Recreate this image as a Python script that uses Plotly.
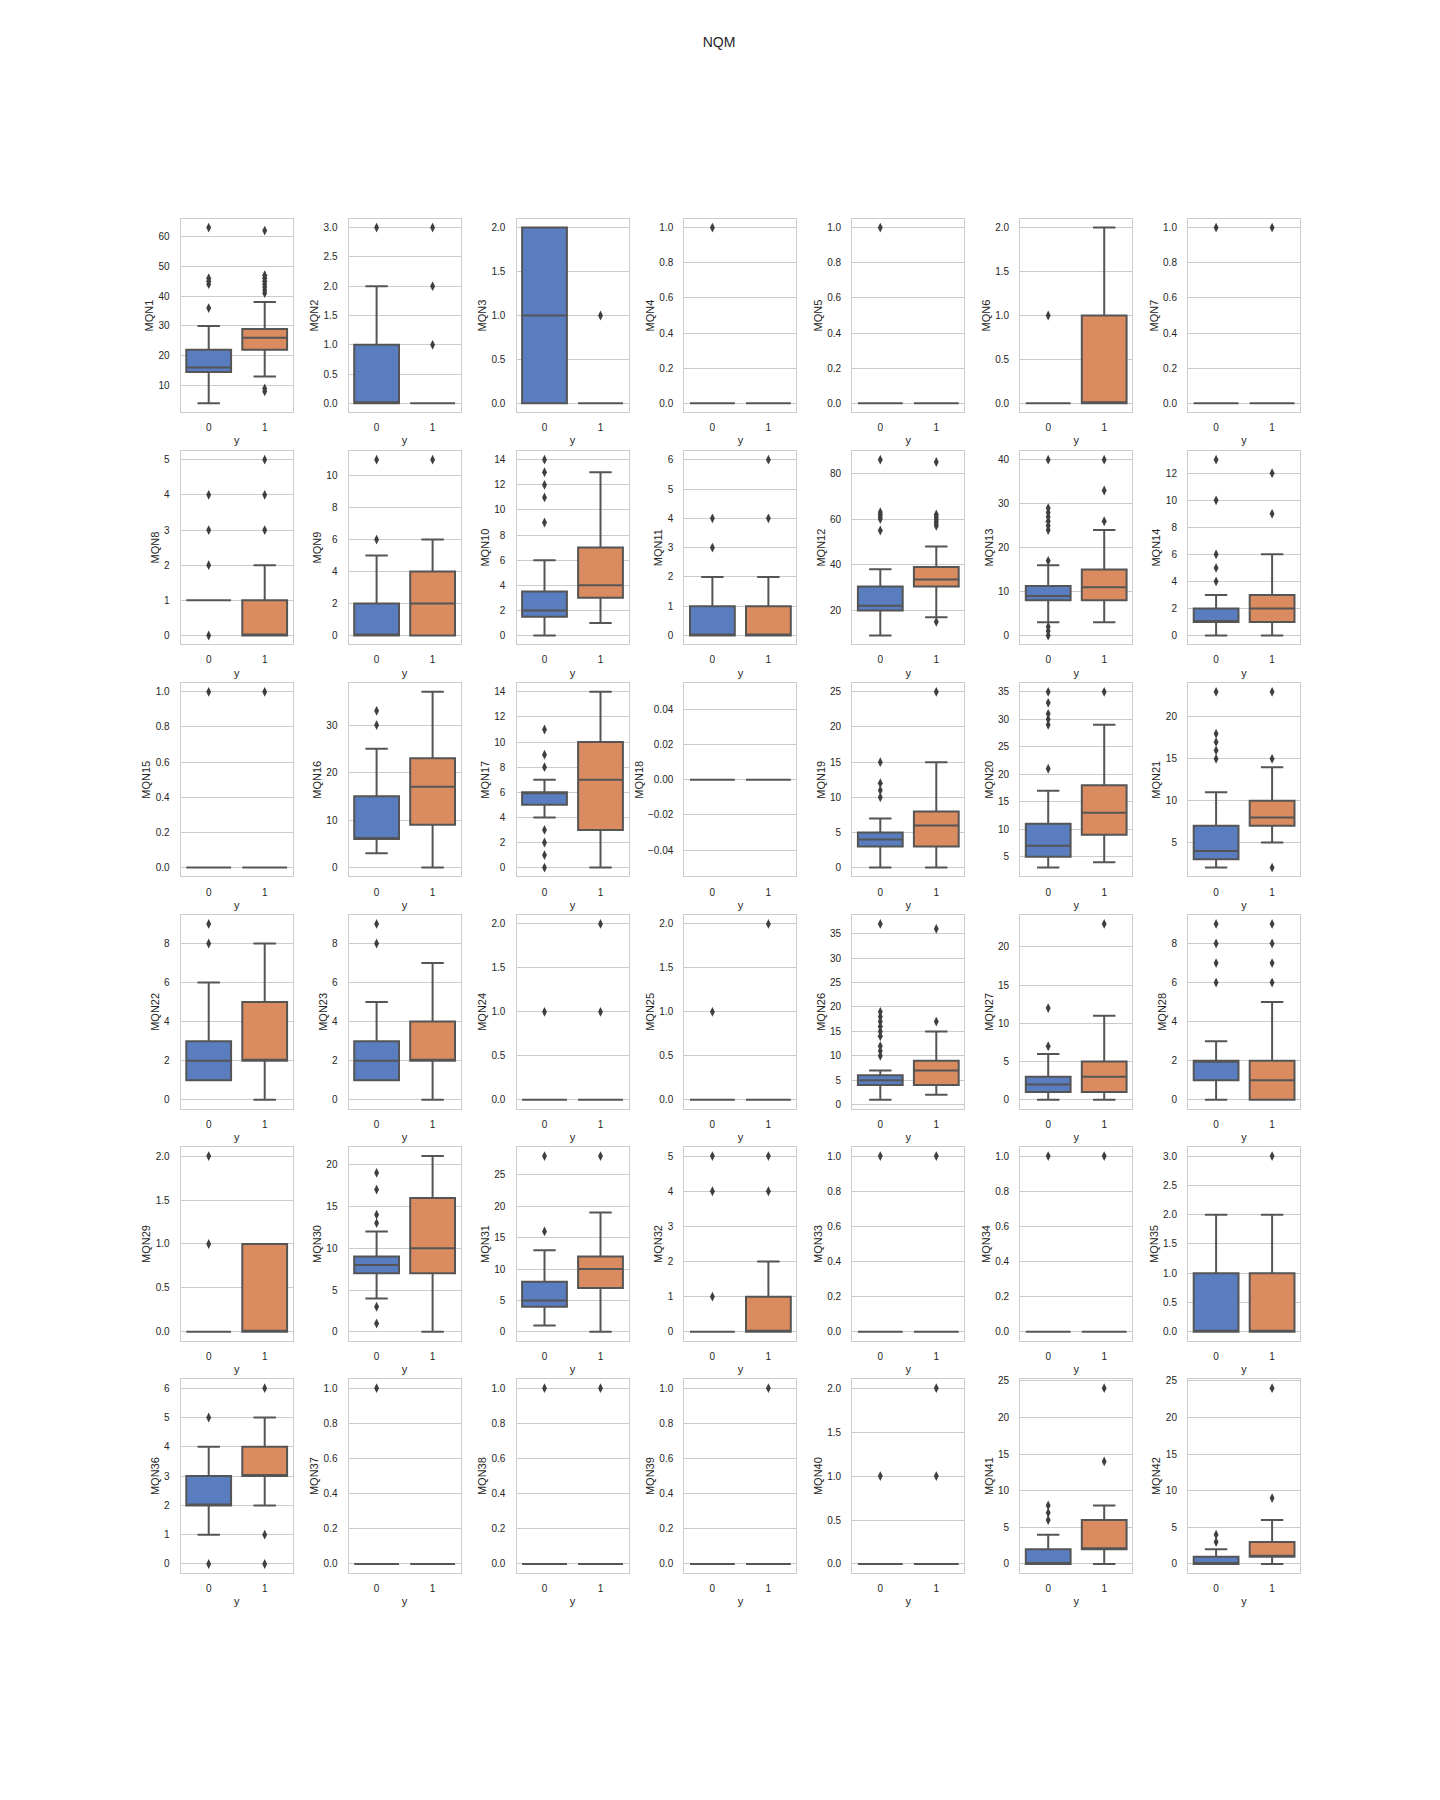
import plotly.graph_objects as go

# ---------------- data ----------------
features = ["MQN%d" % i for i in range(1, 43)]
groups = [0, 1]

# class 0 box statistics: lower whisker, q1, median, q3, upper whisker
g0_low = [4, 0, 0, 0, 0, 0, 0, 1, 0, 0, 0, 9, 3, 0, 0, 3, 4, 0, 0, 3, 2,
          1, 1, 0, 0, 1, 0, 0, 0, 4, 1, 0, 0, 0, 0, 1, 0, 0, 0, 0, 0, 0]
g0_q1 = [14.5, 0, 0, 0, 0, 0, 0, 1, 0, 1.5, 0, 20, 8, 1, 0, 6, 5, 0, 3, 5, 3,
         1, 1, 0, 0, 4, 1, 1, 0, 7, 4, 0, 0, 0, 0, 2, 0, 0, 0, 0, 0, 0]
g0_med = [16, 0, 1, 0, 0, 0, 0, 1, 0, 2, 0, 22, 9, 1, 0, 6, 6, 0, 4, 7, 4,
          2, 2, 0, 0, 5, 2, 2, 0, 8, 5, 0, 0, 0, 0, 2, 0, 0, 0, 0, 0, 0]
g0_q3 = [22, 1, 2, 0, 0, 0, 0, 1, 2, 3.5, 1, 30.5, 11.25, 2, 0, 15, 6, 0, 5, 11, 7,
         3, 3, 0, 0, 6, 3, 2, 0, 9, 8, 0, 0, 0, 1, 3, 0, 0, 0, 0, 2, 1]
g0_high = [30, 2, 2, 0, 0, 0, 0, 1, 5, 6, 2, 38, 16, 3, 0, 25, 7, 0, 7, 17, 11,
           6, 5, 0, 0, 7, 6, 3, 0, 12, 13, 0, 0, 0, 2, 4, 0, 0, 0, 0, 4, 2]
g0_out = [
    [36, 44, 45, 46, 63], [3], [], [1], [1], [1], [1],
    [0, 2, 3, 4], [6, 11], [9, 11, 12, 13, 14], [3, 4], [55, 60, 61, 62, 63, 86],
    [0, 1, 2, 17, 24, 25, 26, 27, 28, 29, 40], [4, 5, 6, 10, 13],
    [1], [30, 33], [0, 1, 2, 3, 8, 9, 11], [], [10, 11, 12, 15],
    [21, 29, 30, 31, 33, 35], [15, 16, 17, 18, 23],
    [8, 9], [8, 9], [1], [1], [10, 11, 12, 14, 15, 16, 17, 18, 19, 37], [7, 12], [6, 7, 8, 9],
    [1, 2], [1, 3, 13, 14, 17, 19], [16, 28], [1, 4, 5], [1], [1], [],
    [0, 5], [1], [1], [], [1], [6, 7, 8], [3, 4],
]

# class 1 box statistics
g1_low = [13, 0, 0, 0, 0, 0, 0, 0, 0, 1, 0, 17, 3, 0, 0, 0, 0, 0, 0, 4, 5,
          0, 0, 0, 0, 2, 0, 0, 0, 0, 0, 0, 0, 0, 0, 2, 0, 0, 0, 0, 0, 0]
g1_q1 = [22, 0, 0, 0, 0, 0, 0, 0, 0, 3, 0, 30.5, 8, 1, 0, 9, 3, 0, 3, 9, 7,
         2, 2, 0, 0, 4, 1, 0, 0, 7, 7, 0, 0, 0, 0, 3, 0, 0, 0, 0, 2, 1]
g1_med = [26, 0, 0, 0, 0, 0, 0, 0, 2, 4, 0, 33.5, 11, 2, 0, 17, 7, 0, 6, 13, 8,
          2, 2, 0, 0, 7, 3, 1, 0, 10, 10, 0, 0, 0, 0, 3, 0, 0, 0, 0, 2, 1]
g1_q3 = [29, 0, 0, 0, 0, 1, 0, 1, 4, 7, 1, 39, 15, 3, 0, 23, 10, 0, 8, 18, 10,
         5, 4, 0, 0, 9, 5, 2, 1, 16, 12, 1, 0, 0, 1, 4, 0, 0, 0, 0, 6, 3]
g1_high = [38, 0, 0, 0, 0, 2, 0, 2, 6, 13, 2, 48, 24, 6, 0, 37, 14, 0, 15, 29, 14,
           8, 7, 0, 0, 15, 11, 5, 1, 21, 19, 2, 0, 0, 2, 5, 0, 0, 0, 0, 8, 6]
g1_out = [
    [8, 9, 41, 42, 43, 44, 45, 46, 47, 62], [1, 2, 3], [1], [], [], [], [1],
    [3, 4, 5], [11], [], [4, 6], [15, 57, 58, 59, 60, 61, 62, 85], [26, 33, 40], [9, 12],
    [1], [], [], [], [25], [35], [2, 15, 23],
    [], [], [1, 2], [2], [17, 36], [23], [6, 7, 8, 9],
    [], [], [28], [4, 5], [1], [1], [3],
    [0, 1, 6], [], [1], [1], [1, 2], [14, 24], [9, 24],
]

# y tick step for each panel
tick_steps = [10, 0.5, 0.5, 0.2, 0.2, 0.5, 0.2,
              1, 2, 2, 1, 20, 10, 2,
              0.2, 10, 2, 0.02, 5, 5, 5,
              2, 2, 0.5, 0.5, 5, 5, 2,
              0.5, 5, 5, 1, 0.2, 0.2, 0.5,
              1, 0.2, 0.2, 0.2, 0.5, 5, 5]

title_text = "NQM"

# ---------------- style / layout ----------------
W, H = 1440, 1800
FONT = "Liberation Sans, Arial, sans-serif"
TXT = "#262626"
EDGE = "#555555"
FLIER = "#3f3f3f"
GRID = "#cccccc"
COLORS = ["#597dbf", "#da8b5f"]

col_left0, col_step, pw = 172.7, 167.9, 112.0
row_top0, row_step, ph = 207.5, 232.9, 194.0
NCOL = 7

fig = go.Figure()
layout = {}

for i, name in enumerate(features):
    r, c = divmod(i, NCOL)
    n = i + 1
    xr = "x" if n == 1 else "x%d" % n
    yr = "y" if n == 1 else "y%d" % n
    stats = [
        (g0_low[i], g0_q1[i], g0_med[i], g0_q3[i], g0_high[i], g0_out[i]),
        (g1_low[i], g1_q1[i], g1_med[i], g1_q3[i], g1_high[i], g1_out[i]),
    ]
    for g, (lo, q1, med, q3, hi, outs) in zip(groups, stats):
        fig.add_trace(go.Box(
            x=[g], q1=[q1], median=[med], q3=[q3], lowerfence=[lo], upperfence=[hi],
            width=0.8, whiskerwidth=0.5, fillcolor=COLORS[g],
            line=dict(color=EDGE, width=2), boxpoints=False,
            xaxis=xr, yaxis=yr, showlegend=False, name=str(g)))
        if outs:
            fig.add_trace(go.Scatter(
                x=[g] * len(outs), y=outs, mode="markers",
                marker=dict(symbol="diamond-tall", size=7, color=FLIER, line=dict(width=0)),
                xaxis=xr, yaxis=yr, showlegend=False, hoverinfo="y"))

    allv = [g0_low[i], g0_high[i], g1_low[i], g1_high[i]] + g0_out[i] + g1_out[i]
    vmin, vmax = min(allv), max(allv)
    if vmax == vmin:
        vmin, vmax = vmin - 0.05, vmax + 0.05
    pad = 0.05 * (vmax - vmin)
    step = tick_steps[i]
    fmt = ".2f" if step < 0.1 else (".1f" if step < 1 else "d")

    left = col_left0 + c * col_step
    top = row_top0 + r * row_step
    xkey = "xaxis" if n == 1 else "xaxis%d" % n
    ykey = "yaxis" if n == 1 else "yaxis%d" % n
    layout[xkey] = dict(
        domain=[left / W, (left + pw) / W], anchor=yr,
        range=[-0.5, 1.5], tickvals=groups, ticktext=[str(g) for g in groups],
        showgrid=False, zeroline=False, showline=True, mirror=True,
        linecolor=GRID, linewidth=1.25, ticks="", ticklabelstandoff=6,
        tickfont=dict(family=FONT, size=10, color=TXT),
        title=dict(text="y", standoff=4, font=dict(family=FONT, size=11, color=TXT)),
        fixedrange=True)
    layout[ykey] = dict(
        domain=[1 - (top + ph) / H, 1 - top / H], anchor=xr,
        range=[vmin - pad, vmax + pad], tick0=0, dtick=step, tickformat=fmt,
        showgrid=True, gridcolor=GRID, gridwidth=1, zeroline=False,
        showline=True, mirror=True, linecolor=GRID, linewidth=1.25,
        ticks="", ticklabelstandoff=8,
        tickfont=dict(family=FONT, size=10, color=TXT),
        title=dict(text=name, standoff=2, font=dict(family=FONT, size=11, color=TXT)),
        fixedrange=True)

fig.update_layout(
    width=W, height=H, margin=dict(l=0, r=0, t=0, b=0),
    paper_bgcolor="white", plot_bgcolor="white",
    font=dict(family=FONT, color=TXT),
    title=dict(text=title_text, x=711 / W, xanchor="center", y=1 - 34 / H, yanchor="middle",
               font=dict(family=FONT, size=14, color=TXT)),
    boxmode="overlay",
    **layout)

fig.write_html("out.html")
